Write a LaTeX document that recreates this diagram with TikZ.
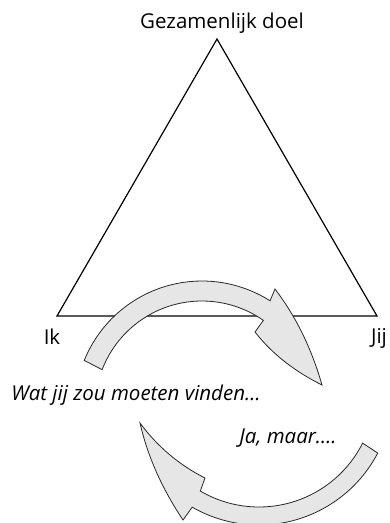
\documentclass[tikz,border=0pt]{standalone}
\usepackage{fontspec}
\setmainfont{Open Sans}
\usepackage{xcolor}
\usetikzlibrary{positioning}

\definecolor{arrowgray}{RGB}{230,230,230}
\definecolor{arrowline}{RGB}{40,40,40}
\newcommand{\labelfont}{\fontsize{20.5}{23}\selectfont}

\begin{document}
\begin{tikzpicture}[
      x=1pt, y=-1pt,
      label/.style={font=\labelfont, inner sep=0pt, anchor=base},
      remark/.style={font=\labelfont\itshape, inner sep=0pt, anchor=base},
      side/.style={line width=1.2pt, line join=miter},
      bigarrow/.style={fill=arrowgray, draw=arrowline, line width=0.8pt, line join=miter}
    ]
    \useasboundingbox (0,0) rectangle (390,523);

    % triangle
    \coordinate (top) at (217,39);
    \coordinate (me) at (57,316);
    \coordinate (you) at (377,316);
    \draw[side] (top) -- (me) -- (you) -- cycle;

    \node[label] (goal) at (222,28) {Gezamenlijk doel};
    \node[label] (ik) at (52,344) {Ik};
    \node[label] (jij) at (379,343) {Jij};

    % upper arrow, ik -> jij
    \begin{scope}[shift={(202,408)}]
      \draw[bigarrow] (-158:127) arc[start angle=-158, end angle=-57.6, radius=127]
        -- (73,-119) .. controls (95,-90) and (110,-58) .. (120,-23)
        .. controls (94,-36) and (71,-53) .. (53,-76)
        -- (-55:107) arc[start angle=-55, end angle=-159, radius=107] -- cycle;
    \end{scope}

    % lower arrow, jij -> ik
    \begin{scope}[shift={(259,391)}]
      \draw[bigarrow] (27.6:134) arc[start angle=27.6, end angle=119.9, radius=134]
        -- (-76,129) .. controls (-96,99) and (-111,67) .. (-119,32)
        .. controls (-102,55) and (-80,74) .. (-54,87)
        -- (120.4:116) arc[start angle=120.4, end angle=26.7, radius=116] -- cycle;
    \end{scope}

    \node[remark] (wat) at (136,400) {Wat jij zou moeten vinden…};
    \node[remark] (ja) at (288,443) {Ja, maar….};
  \end{tikzpicture}
\end{document}
